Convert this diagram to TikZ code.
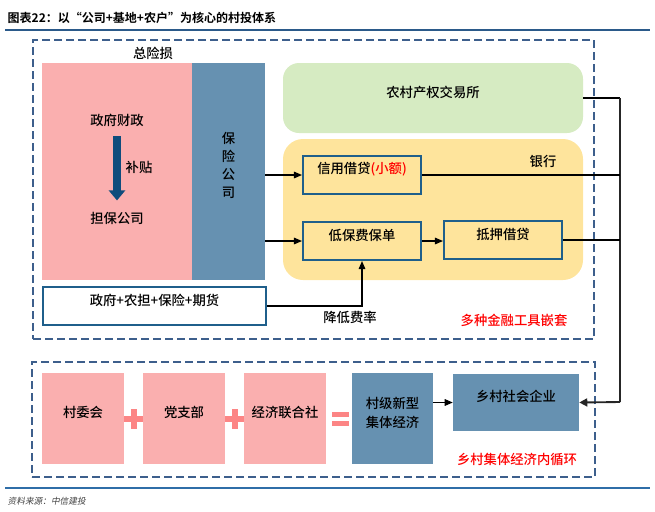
\documentclass[tikz,border=0pt]{standalone}
\usepackage{fontspec}
\setmainfont{Noto Sans CJK SC}
\newfontfamily\cjkmed{Noto Sans CJK SC Medium}
\newfontfamily\cjkbold{Noto Sans CJK SC Bold}
\newfontfamily\cjkit[FakeSlant=0.2]{Noto Sans CJK SC}
\usetikzlibrary{arrows.meta,fit}
\definecolor{pinkc}{HTML}{FAAFAF}
\definecolor{bluec}{HTML}{6691B1}
\definecolor{greenc}{HTML}{D6EBC2}
\definecolor{yellowc}{HTML}{FEE49C}
\definecolor{boxc}{HTML}{1F5F8B}
\definecolor{dashc}{HTML}{3D5F8C}
\definecolor{plusc}{HTML}{FC8585}
\definecolor{redc}{HTML}{FF0000}
\definecolor{arrowc}{HTML}{0E4C7C}
\definecolor{titlelinec}{HTML}{2B5A8A}
\definecolor{srclinec}{HTML}{2F6EA8}
\tikzset{
  area/.style={inner sep=0pt, draw=none},
  bbox/.style={draw=boxc, line width=1.6pt, inner sep=0pt},
  dashbox/.style={draw=dashc, line width=2pt, dash pattern=on 6pt off 3pt, inner sep=0pt},
  conn/.style={line width=0.8pt, -{Triangle[length=6pt,width=5pt]}},
  plain/.style={line width=0.8pt},
  busline/.style={line width=1.4pt, draw=black!85},
  bigarrow/.style={draw=arrowc, line width=6pt, -{Triangle[length=7.5pt,width=12pt]}},
  pluspen/.style={draw=plusc, line width=4.5pt},
  redtext/.style={text=redc}
}
\begin{document}
\begin{tikzpicture}[x=0.75pt,y=-0.75pt, font=\cjkmed\fontsize{10}{12}\selectfont]
\useasboundingbox (0,0) rectangle (655,511);

% title
\node[anchor=west, font=\cjkbold\fontsize{9}{11}\selectfont] (title) at (3,18) {图表22：以“公司+基地+农户”为核心的村投体系};
\draw[draw=titlelinec, line width=1.6pt] (5,30) -- (650,30);

% top frame
\node[fit={(33,40)(594,339)}, dashbox] (topframe) {};
\node (loss) at (153,53) {总险损};
\node[fit={(42,63)(192,280)}, area, fill=pinkc] (pink) {};
\node[fit={(192,63)(265,280)}, area, fill=bluec, align=center, font=\cjkmed\fontsize{10}{13.5}\selectfont] (ins) {保\\险\\公\\司};
\node (gov) at (117,120) {政府财政};
\node (guar) at (117,218) {担保公司};
\draw[bigarrow] ([yshift=-4pt]gov.south) -- ([yshift=5pt]guar.north);
\node (sub) at (139,167) {补贴};

\node[fit={(43,287)(266,325)}, bbox, fill=white] (gbox) {政府+农担+保险+期货};

\node[fit={(283,63)(583,133)}, area, fill=greenc, rounded corners=12pt] (exch) {农村产权交易所};
\node[fit={(283,139)(583,280)}, area, fill=yellowc, rounded corners=15pt] (bank) {};
\node (banklbl) at (543,161) {银行};
\node[fit={(303,156)(421,194)}, bbox] (credit) {信用借贷\textcolor{redc}{(小额)}};
\node[fit={(303,222)(421,260)}, bbox] (lowfee) {低保费保单};
\node[fit={(444,221)(562,259)}, bbox] (mort) {抵押借贷};
\node (rate) at (350,317) {降低费率};
\node[redtext] (tool) at (514,320) {多种金融工具嵌套};

% bottom frame
\node[fit={(32,362)(595,477)}, dashbox] (botframe) {};
\node[fit={(42,373)(124,464)}, area, fill=pinkc] (vc) {村委会};
\node[fit={(143,373)(225,464)}, area, fill=pinkc] (party) {党支部};
\node[fit={(244,373)(326,464)}, area, fill=pinkc] (coop) {经济联合社};
\node[fit={(352,373)(433,464)}, area, fill=bluec, align=center, font=\cjkmed\fontsize{10}{14}\selectfont] (village) {村级新型\\集体经济};
\node[fit={(453,374)(579,431)}, area, fill=bluec] (social) {乡村社会企业};
\node[redtext] (loop) at (517,459) {乡村集体经济内循环};

\draw[pluspen] (124,419) -- (143,419) (133.5,409) -- (133.5,429);
\draw[pluspen] (225,419) -- (244,419) (234.5,409) -- (234.5,429);
\draw[draw=plusc, line width=4.3pt] (332,414.5) -- (349,414.5) (332,423.5) -- (349,423.5);

% connectors
\coordinate (bus) at (620,402);
\draw[conn] (credit.west -| ins.east) -- (credit.west);
\draw[conn] (lowfee.west -| ins.east) -- (lowfee.west);
\draw[conn] (lowfee.east) -- (lowfee.east -| mort.west);
\draw[conn] (gbox.east) -| (lowfee.south);
\draw[plain] (exch.east) -- (exch.east -| bus);
\draw[busline] (exch.east -| bus) -- (bus);
\draw[plain] (credit.east) -- (credit.east -| bus);
\draw[plain] (mort.east) -- (mort.east -| bus);
\draw[busline, -{Triangle[length=6pt,width=6pt]}] (bus) -- (social.east);
\draw[conn] (social.west -| village.east) -- (social.west);

% source
\draw[draw=srclinec, line width=1.2pt] (5,488) -- (650,488);
\node[anchor=west, font=\cjkit\fontsize{6.5}{8}\selectfont, text=black!75] (src) at (3,501) {资料来源：中信建投};
\end{tikzpicture}
\end{document}
